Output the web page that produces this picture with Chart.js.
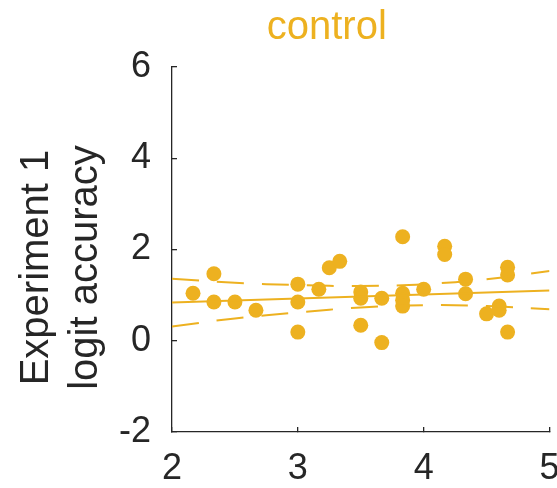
<!DOCTYPE html>
<html>
<head>
<meta charset="utf-8">
<script src="https://cdn.jsdelivr.net/npm/chart.js@4.4.1/dist/chart.umd.min.js"></script>
<style>
  body { margin: 0; background: #fff; }
  canvas { display: block; }
</style>
</head>
<body>
<canvas id="myChart" width="557" height="488"></canvas>
<script>
const yellow = "#EDB120";
const dark = "#262626";

// subject points
const xVals = [2.167, 2.333, 2.333, 2.5, 2.667, 3, 3, 3, 3.167, 3.25, 3.333, 3.5, 3.5, 3.5, 3.667, 3.667,
  3.833, 3.833, 3.833, 3.833, 4, 4.167, 4.167, 4.333, 4.333, 4.5, 4.6, 4.6, 4.667, 4.667, 4.667];
const yVals = [1.04, 1.47, 0.85, 0.85, 0.67, 1.24, 0.85, 0.19, 1.13, 1.60, 1.74, 1.07, 0.93, 0.34, 0.93, -0.04,
  2.28, 1.04, 0.89, 0.76, 1.13, 2.07, 1.89, 1.35, 1.03, 0.59, 0.76, 0.67, 1.61, 1.44, 0.19];

// regression line and confidence band
const fitX = [2, 5];
const fitY = [0.84, 1.10];
const bandX = [2, 2.5, 3, 3.5, 4, 4.5, 5];
const bandUpper = [1.36, 1.27, 1.22, 1.20, 1.24, 1.35, 1.53];
const bandLower = [0.31, 0.49, 0.62, 0.73, 0.78, 0.76, 0.69];

const xTicks = [2, 3, 4, 5];
const yTicks = [-2, 0, 2, 4, 6];

const titleText = "control";
const yTitle = ["Experiment 1", "logit accuracy"];

function pairs(xs, ys) {
  return xs.map((x, i) => ({ x: x, y: ys[i] }));
}

const textPlugin = {
  id: "texts",
  afterDraw(chart) {
    const ctx = chart.ctx;
    const area = chart.chartArea;
    ctx.save();
    ctx.font = "40px 'Liberation Sans', Arial, sans-serif";
    ctx.textAlign = "center";
    ctx.textBaseline = "alphabetic";
    ctx.fillStyle = yellow;
    ctx.fillText(titleText, area.left + 0.41 * (area.right - area.left), 39);

    ctx.fillStyle = dark;
    const cy = (area.top + area.bottom) / 2 + 18;
    const baselines = [48, 97];
    yTitle.forEach((line, i) => {
      ctx.save();
      ctx.translate(baselines[i], cy);
      ctx.rotate(-Math.PI / 2);
      ctx.fillText(line, 0, 0);
      ctx.restore();
    });
    ctx.restore();
  }
};

const tickFont = { family: "'Liberation Sans', Arial, sans-serif", size: 36 };

new Chart(document.getElementById("myChart").getContext("2d"), {
  type: "scatter",
  data: {
    datasets: [
      {
        type: "line",
        data: pairs(fitX, fitY),
        borderColor: yellow,
        borderWidth: 2,
        pointRadius: 0,
        order: 1
      },
      {
        type: "line",
        data: pairs(bandX, bandUpper),
        borderColor: yellow,
        borderWidth: 2,
        borderDash: [27, 18],
        pointRadius: 0,
        tension: 0.4,
        order: 1
      },
      {
        type: "line",
        data: pairs(bandX, bandLower),
        borderColor: yellow,
        borderWidth: 2,
        borderDash: [27, 18],
        pointRadius: 0,
        tension: 0.4,
        order: 1
      },
      {
        data: pairs(xVals, yVals),
        backgroundColor: yellow,
        borderWidth: 0,
        pointRadius: 7.5,
        order: 2
      }
    ]
  },
  options: {
    responsive: false,
    devicePixelRatio: 1,
    animation: false,
    layout: { padding: { top: 67, right: 7, left: 0, bottom: 0 } },
    plugins: { legend: { display: false }, tooltip: { enabled: false } },
    scales: {
      x: {
        type: "linear",
        min: 2,
        max: 5,
        afterBuildTicks: (scale) => { scale.ticks = xTicks.map(v => ({ value: v })); },
        afterFit: (scale) => { scale.height = 56; scale.paddingLeft = 0; scale.paddingRight = 0; },
        border: { color: dark, width: 1.3 },
        grid: { drawOnChartArea: false, tickLength: -5, color: dark, lineWidth: 1.3 },
        ticks: { color: dark, font: tickFont, padding: 20, maxRotation: 0 }
      },
      y: {
        min: -2,
        max: 6,
        afterBuildTicks: (scale) => { scale.ticks = yTicks.map(v => ({ value: v })); },
        afterFit: (scale) => { scale.width = 172; scale.paddingTop = 0; scale.paddingBottom = 0; },
        border: { color: dark, width: 1.3 },
        grid: { drawOnChartArea: false, tickLength: -5, color: dark, lineWidth: 1.3 },
        ticks: { color: dark, font: tickFont, padding: 26 }
      }
    }
  },
  plugins: [textPlugin]
});
</script>
</body>
</html>
